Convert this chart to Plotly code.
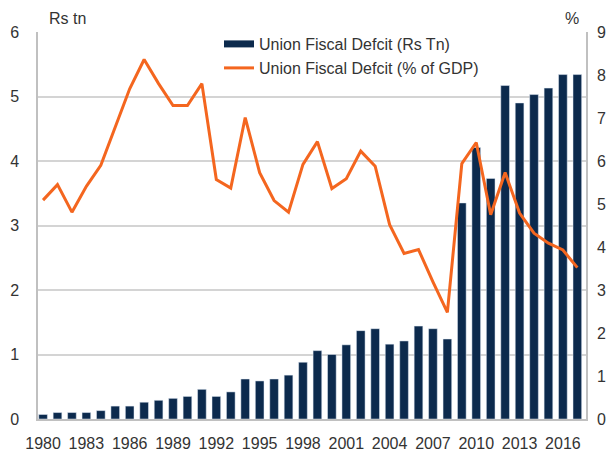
import plotly.graph_objects as go

years = list(range(1980, 2018))
deficit_rs_tn = [0.07, 0.10, 0.10, 0.10, 0.13, 0.20, 0.20, 0.26, 0.29, 0.32,
                 0.35, 0.46, 0.35, 0.42, 0.62, 0.59, 0.62, 0.68, 0.88, 1.06,
                 1.00, 1.15, 1.37, 1.40, 1.16, 1.21, 1.44, 1.40, 1.24, 3.35,
                 4.21, 3.73, 5.17, 4.90, 5.03, 5.13, 5.34, 5.34]
deficit_pct_gdp = [5.09, 5.45, 4.81, 5.41, 5.90, 6.78, 7.68, 8.36, 7.80, 7.29,
                   7.29, 7.80, 5.57, 5.37, 7.01, 5.73, 5.08, 4.81, 5.92, 6.45,
                   5.36, 5.59, 6.23, 5.88, 4.52, 3.85, 3.94, 3.19, 2.48, 5.94,
                   6.43, 4.75, 5.73, 4.79, 4.32, 4.09, 3.93, 3.52]
x_ticks = list(range(1980, 2017, 3))

NAVY = "#0C2A4D"
ORANGE = "#F4661F"
TXT = "#333333"
FONT = "Liberation Sans, Arial, sans-serif"

L, R, T, B = 38, 22, 32, 33
PW, PH = 608 - L - R, 452 - T - B

fig = go.Figure()
fig.add_trace(go.Bar(x=years, y=deficit_rs_tn, marker_color=NAVY, width=0.6,
                     name="Union Fiscal Defcit (Rs Tn)", showlegend=False, yaxis="y"))
# legend proxy for the bar series (wide flat swatch)
fig.add_trace(go.Scatter(x=[None], y=[None], mode="lines", line=dict(color=NAVY, width=7),
                         name="Union Fiscal Defcit (Rs Tn)", legend="legend"))
fig.add_trace(go.Scatter(x=years, y=deficit_pct_gdp, mode="lines",
                         line=dict(color=ORANGE, width=3),
                         name="Union Fiscal Defcit (% of GDP)", yaxis="y2", legend="legend2"))

fig.update_layout(
    width=608, height=452,
    margin=dict(l=L, r=R, t=T, b=B, autoexpand=False),
    plot_bgcolor="white", paper_bgcolor="white",
    font=dict(family=FONT, size=16, color=TXT),
    xaxis=dict(range=[1979.65, 2017.6], tickvals=x_ticks, showgrid=False,
               showline=True, linecolor="#c0c0c0", linewidth=1.5, ticks="",
               ticklabelstandoff=9, zeroline=False, tickfont=dict(size=16),
               automargin=False),
    yaxis=dict(range=[0, 6], dtick=1, showgrid=True, gridcolor="#d4d4d4", gridwidth=1.5,
               showline=True, linecolor="#c0c0c0", linewidth=1.5, ticks="",
               ticklabelstandoff=14, zeroline=False, tickfont=dict(size=16),
               automargin=False),
    yaxis2=dict(range=[0, 9], dtick=1, overlaying="y", side="right", showgrid=False,
                showline=True, linecolor="#c0c0c0", linewidth=1.5, ticks="",
                ticklabelstandoff=6, zeroline=False, tickfont=dict(size=16),
                automargin=False),
    legend=dict(x=(219 - L) / PW, y=1 - (44 - T) / PH, xanchor="left", yanchor="middle",
                bgcolor="rgba(0,0,0,0)", font=dict(size=16, color=TXT),
                itemwidth=30, borderwidth=0),
    legend2=dict(x=(219 - L) / PW, y=1 - (68 - T) / PH, xanchor="left", yanchor="middle",
                 bgcolor="rgba(0,0,0,0)", font=dict(size=16, color=TXT),
                 itemwidth=30, borderwidth=0),
    annotations=[
        dict(text="Rs tn", x=(47 - L) / PW, y=1 + (T - 18) / PH, xref="paper", yref="paper",
             showarrow=False, font=dict(size=16, color=TXT), xanchor="left", yanchor="middle"),
        dict(text="%", x=(572 - L) / PW, y=1 + (T - 18) / PH, xref="paper", yref="paper",
             showarrow=False, font=dict(size=16, color=TXT), xanchor="center", yanchor="middle"),
    ],
)

fig.write_html("out.html", config={"displayModeBar": False},
               post_script="document.body.style.margin='0';document.body.style.padding='0';")
